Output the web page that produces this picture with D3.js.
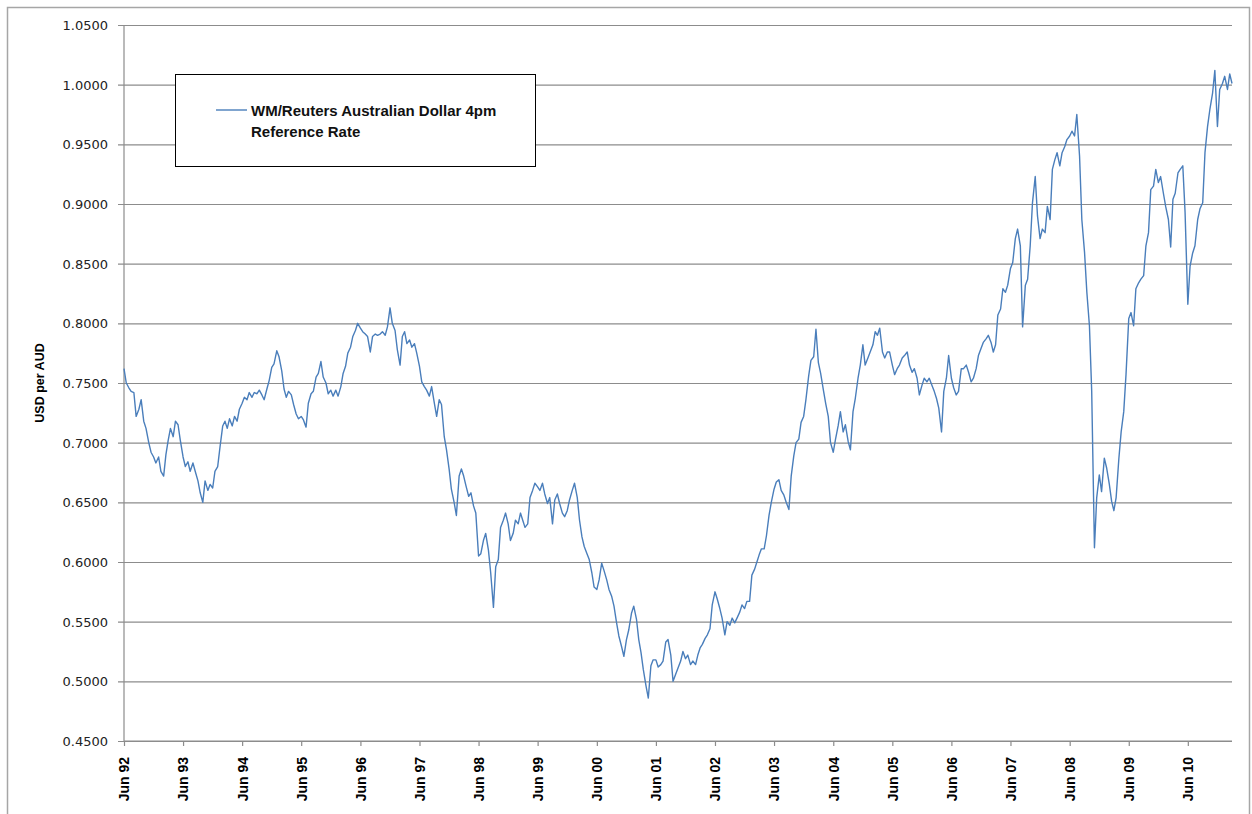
<!DOCTYPE html>
<html>
<head>
<meta charset="UTF-8">
<title>AUD/USD</title>
<script src="https://cdn.jsdelivr.net/npm/d3@7"></script>
<style>
  body { margin: 0; background: #fff; }
  svg { display: block; }
</style>
</head>
<body>
<div id="chart"></div>
<script>
// semi-monthly readings (1st and 15th), each array runs Jun -> May
var fy1992 = [0.762,0.750,0.746,0.743,0.742,0.722,0.728,0.736,0.718,0.712,0.700,0.692,0.688,0.683,0.688,0.676,0.672,0.690,0.702,0.712,0.705,0.718,0.715,0.702];
var fy1993 = [0.688,0.680,0.684,0.676,0.683,0.676,0.668,0.658,0.650,0.668,0.660,0.665,0.662,0.676,0.680,0.696,0.714,0.718,0.712,0.720,0.714,0.722,0.718,0.728];
var fy1994 = [0.733,0.738,0.736,0.742,0.738,0.742,0.741,0.744,0.740,0.736,0.745,0.752,0.763,0.766,0.777,0.772,0.760,0.745,0.738,0.743,0.740,0.732,0.724,0.720];
var fy1995 = [0.722,0.719,0.713,0.733,0.741,0.743,0.755,0.758,0.768,0.755,0.750,0.741,0.744,0.739,0.744,0.739,0.747,0.758,0.764,0.775,0.780,0.789,0.794,0.800];
var fy1996 = [0.796,0.793,0.791,0.789,0.776,0.789,0.791,0.790,0.791,0.793,0.790,0.797,0.813,0.800,0.794,0.778,0.765,0.789,0.793,0.783,0.786,0.780,0.783,0.775];
var fy1997 = [0.764,0.751,0.747,0.744,0.739,0.747,0.733,0.722,0.736,0.732,0.705,0.694,0.678,0.661,0.650,0.639,0.672,0.678,0.672,0.664,0.655,0.658,0.647,0.641];
var fy1998 = [0.605,0.607,0.618,0.624,0.610,0.591,0.562,0.596,0.602,0.629,0.635,0.641,0.632,0.618,0.624,0.635,0.632,0.641,0.635,0.629,0.632,0.654,0.660,0.666];
var fy1999 = [0.663,0.660,0.666,0.657,0.649,0.654,0.632,0.652,0.657,0.649,0.641,0.638,0.643,0.652,0.660,0.666,0.654,0.635,0.621,0.613,0.607,0.602,0.591,0.579];
var fy2000 = [0.577,0.585,0.599,0.593,0.585,0.577,0.571,0.563,0.549,0.538,0.529,0.521,0.535,0.543,0.557,0.563,0.552,0.535,0.524,0.510,0.496,0.486,0.513,0.518];
var fy2001 = [0.518,0.512,0.514,0.517,0.533,0.535,0.522,0.500,0.506,0.511,0.517,0.525,0.519,0.522,0.514,0.517,0.514,0.522,0.528,0.531,0.536,0.539,0.544,0.564];
var fy2002 = [0.575,0.569,0.561,0.553,0.539,0.550,0.547,0.553,0.549,0.553,0.558,0.564,0.561,0.567,0.567,0.589,0.594,0.600,0.606,0.611,0.611,0.622,0.639,0.650];
var fy2003 = [0.661,0.667,0.669,0.660,0.656,0.650,0.644,0.672,0.689,0.700,0.703,0.717,0.722,0.736,0.756,0.769,0.772,0.795,0.767,0.758,0.744,0.733,0.722,0.700];
var fy2004 = [0.692,0.703,0.714,0.726,0.709,0.715,0.701,0.694,0.726,0.737,0.754,0.765,0.782,0.765,0.771,0.776,0.782,0.793,0.790,0.796,0.776,0.771,0.776,0.776];
var fy2005 = [0.765,0.757,0.762,0.765,0.771,0.773,0.776,0.765,0.759,0.762,0.754,0.740,0.748,0.754,0.751,0.754,0.748,0.743,0.737,0.729,0.709,0.743,0.754,0.773];
var fy2006 = [0.754,0.746,0.740,0.743,0.762,0.762,0.765,0.759,0.751,0.754,0.762,0.773,0.779,0.784,0.787,0.790,0.784,0.776,0.782,0.807,0.812,0.829,0.826,0.832];
var fy2007 = [0.846,0.851,0.871,0.879,0.865,0.797,0.832,0.837,0.865,0.901,0.923,0.890,0.871,0.879,0.876,0.898,0.887,0.929,0.937,0.943,0.932,0.943,0.948,0.954];
var fy2008 = [0.957,0.961,0.957,0.975,0.940,0.887,0.859,0.826,0.798,0.743,0.612,0.654,0.673,0.659,0.687,0.679,0.665,0.651,0.643,0.654,0.687,0.709,0.726,0.757];
var fy2009 = [0.804,0.809,0.798,0.829,0.834,0.837,0.840,0.865,0.876,0.912,0.915,0.929,0.918,0.923,0.909,0.898,0.887,0.864,0.904,0.909,0.926,0.929,0.932,0.893];
var fy2010 = [0.816,0.848,0.859,0.865,0.887,0.896,0.901,0.943,0.965,0.979,0.993,1.012,0.965,0.996,1.001,1.007,0.996,1.009,1.001];

var rates = [].concat(fy1992, fy1993, fy1994, fy1995, fy1996, fy1997, fy1998, fy1999,
  fy2000, fy2001, fy2002, fy2003, fy2004, fy2005, fy2006, fy2007, fy2008, fy2009, fy2010);

var xLabels = ["Jun 92","Jun 93","Jun 94","Jun 95","Jun 96","Jun 97","Jun 98","Jun 99","Jun 00",
  "Jun 01","Jun 02","Jun 03","Jun 04","Jun 05","Jun 06","Jun 07","Jun 08","Jun 09","Jun 10"];
var yTicks = [0.45,0.50,0.55,0.60,0.65,0.70,0.75,0.80,0.85,0.90,0.95,1.00,1.05];
var seriesName = ["WM/Reuters Australian Dollar 4pm", "Reference Rate"];

var W = 1252, H = 814;
var pLeft = 124, pRight = 1232, pTop = 25, pBottom = 741;

var data = rates.map(function (v, i) {
  return { date: new Date(1992, 5 + Math.floor(i / 2), i % 2 ? 15 : 1), value: v };
});

var x = d3.scaleTime()
  .domain([new Date(1992, 5, 1), new Date(2011, 2, 1)])
  .range([pLeft, pRight]);
var y = d3.scaleLinear().domain([0.45, 1.05]).range([pBottom, pTop]);

var svg = d3.select("#chart").append("svg").attr("width", W).attr("height", H);

// outer chart frame
svg.append("rect")
  .attr("x", 7.5).attr("y", 7.5).attr("width", 1242).attr("height", 820)
  .attr("fill", "#fff").attr("stroke", "#a6a6a6").attr("stroke-width", 1.5);

// gridlines + y labels
var yAxis = d3.axisLeft(y).tickValues(yTicks).tickSize(0).tickFormat(d3.format(".4f"));
var gy = svg.append("g").attr("transform", "translate(" + (pLeft - 6) + ",0)").call(yAxis);
gy.select(".domain").remove();
gy.selectAll(".tick line").attr("stroke", "#8c8c8c").attr("stroke-width", 1.2)
  .attr("x1", 0).attr("x2", pRight - pLeft + 6);
gy.selectAll(".tick text").attr("x", -10).attr("dy", "0.35em")
  .style("font-family", "DejaVu Sans, Verdana, sans-serif").style("font-size", "13px").attr("fill", "#222");

// x axis
var junes = xLabels.map(function (d, i) { return new Date(1992 + i, 5, 1); });
var xAxis = d3.axisBottom(x).tickValues(junes).tickSize(5)
  .tickFormat(function (d, i) { return xLabels[i]; });
var gx = svg.append("g").attr("transform", "translate(0," + pBottom + ")").call(xAxis);
gx.select(".domain").attr("stroke", "#8c8c8c").attr("stroke-width", 1.2)
  .attr("d", "M" + pLeft + ",0H" + pRight);
gx.selectAll(".tick line").attr("stroke", "#8c8c8c").attr("stroke-width", 1.2);
gx.selectAll(".tick text")
  .attr("transform", "rotate(-90)")
  .attr("x", -16).attr("y", 0).attr("dy", "0.35em")
  .style("text-anchor", "end")
  .style("font-family", "Liberation Sans, Arial, sans-serif").style("font-size", "14px")
  .style("font-weight", "bold").attr("fill", "#000");

// left axis line
svg.append("line").attr("x1", pLeft).attr("x2", pLeft).attr("y1", pTop).attr("y2", pBottom)
  .attr("stroke", "#8c8c8c").attr("stroke-width", 1.2);

// y title
svg.append("text")
  .attr("transform", "translate(44," + ((pTop + pBottom) / 2) + ") rotate(-90)")
  .attr("text-anchor", "middle")
  .style("font-family", "Liberation Sans, Arial, sans-serif").style("font-size", "12.5px")
  .style("font-weight", "bold").text("USD per AUD");

// series
var line = d3.line().x(function (d) { return x(d.date); }).y(function (d) { return y(d.value); });
svg.append("path").datum(data)
  .attr("d", line).attr("fill", "none")
  .attr("stroke", "#4a7ebb").attr("stroke-width", 1.4).attr("stroke-linejoin", "round");

// legend
var lg = svg.append("g");
lg.append("rect").attr("x", 175.5).attr("y", 74.5).attr("width", 360).attr("height", 92)
  .attr("fill", "#fff").attr("stroke", "#000").attr("stroke-width", 1);
lg.append("line").attr("x1", 216).attr("x2", 247).attr("y1", 110).attr("y2", 110)
  .attr("stroke", "#4a7ebb").attr("stroke-width", 1.4);
lg.selectAll("text.lab").data(seriesName).enter().append("text")
  .attr("class", "lab")
  .attr("x", 251).attr("y", function (d, i) { return 116 + i * 21; })
  .style("font-family", "Liberation Sans, Arial, sans-serif").style("font-size", "15px")
  .style("font-weight", "bold").attr("fill", "#111")
  .text(function (d) { return d; });
</script>
</body>
</html>
